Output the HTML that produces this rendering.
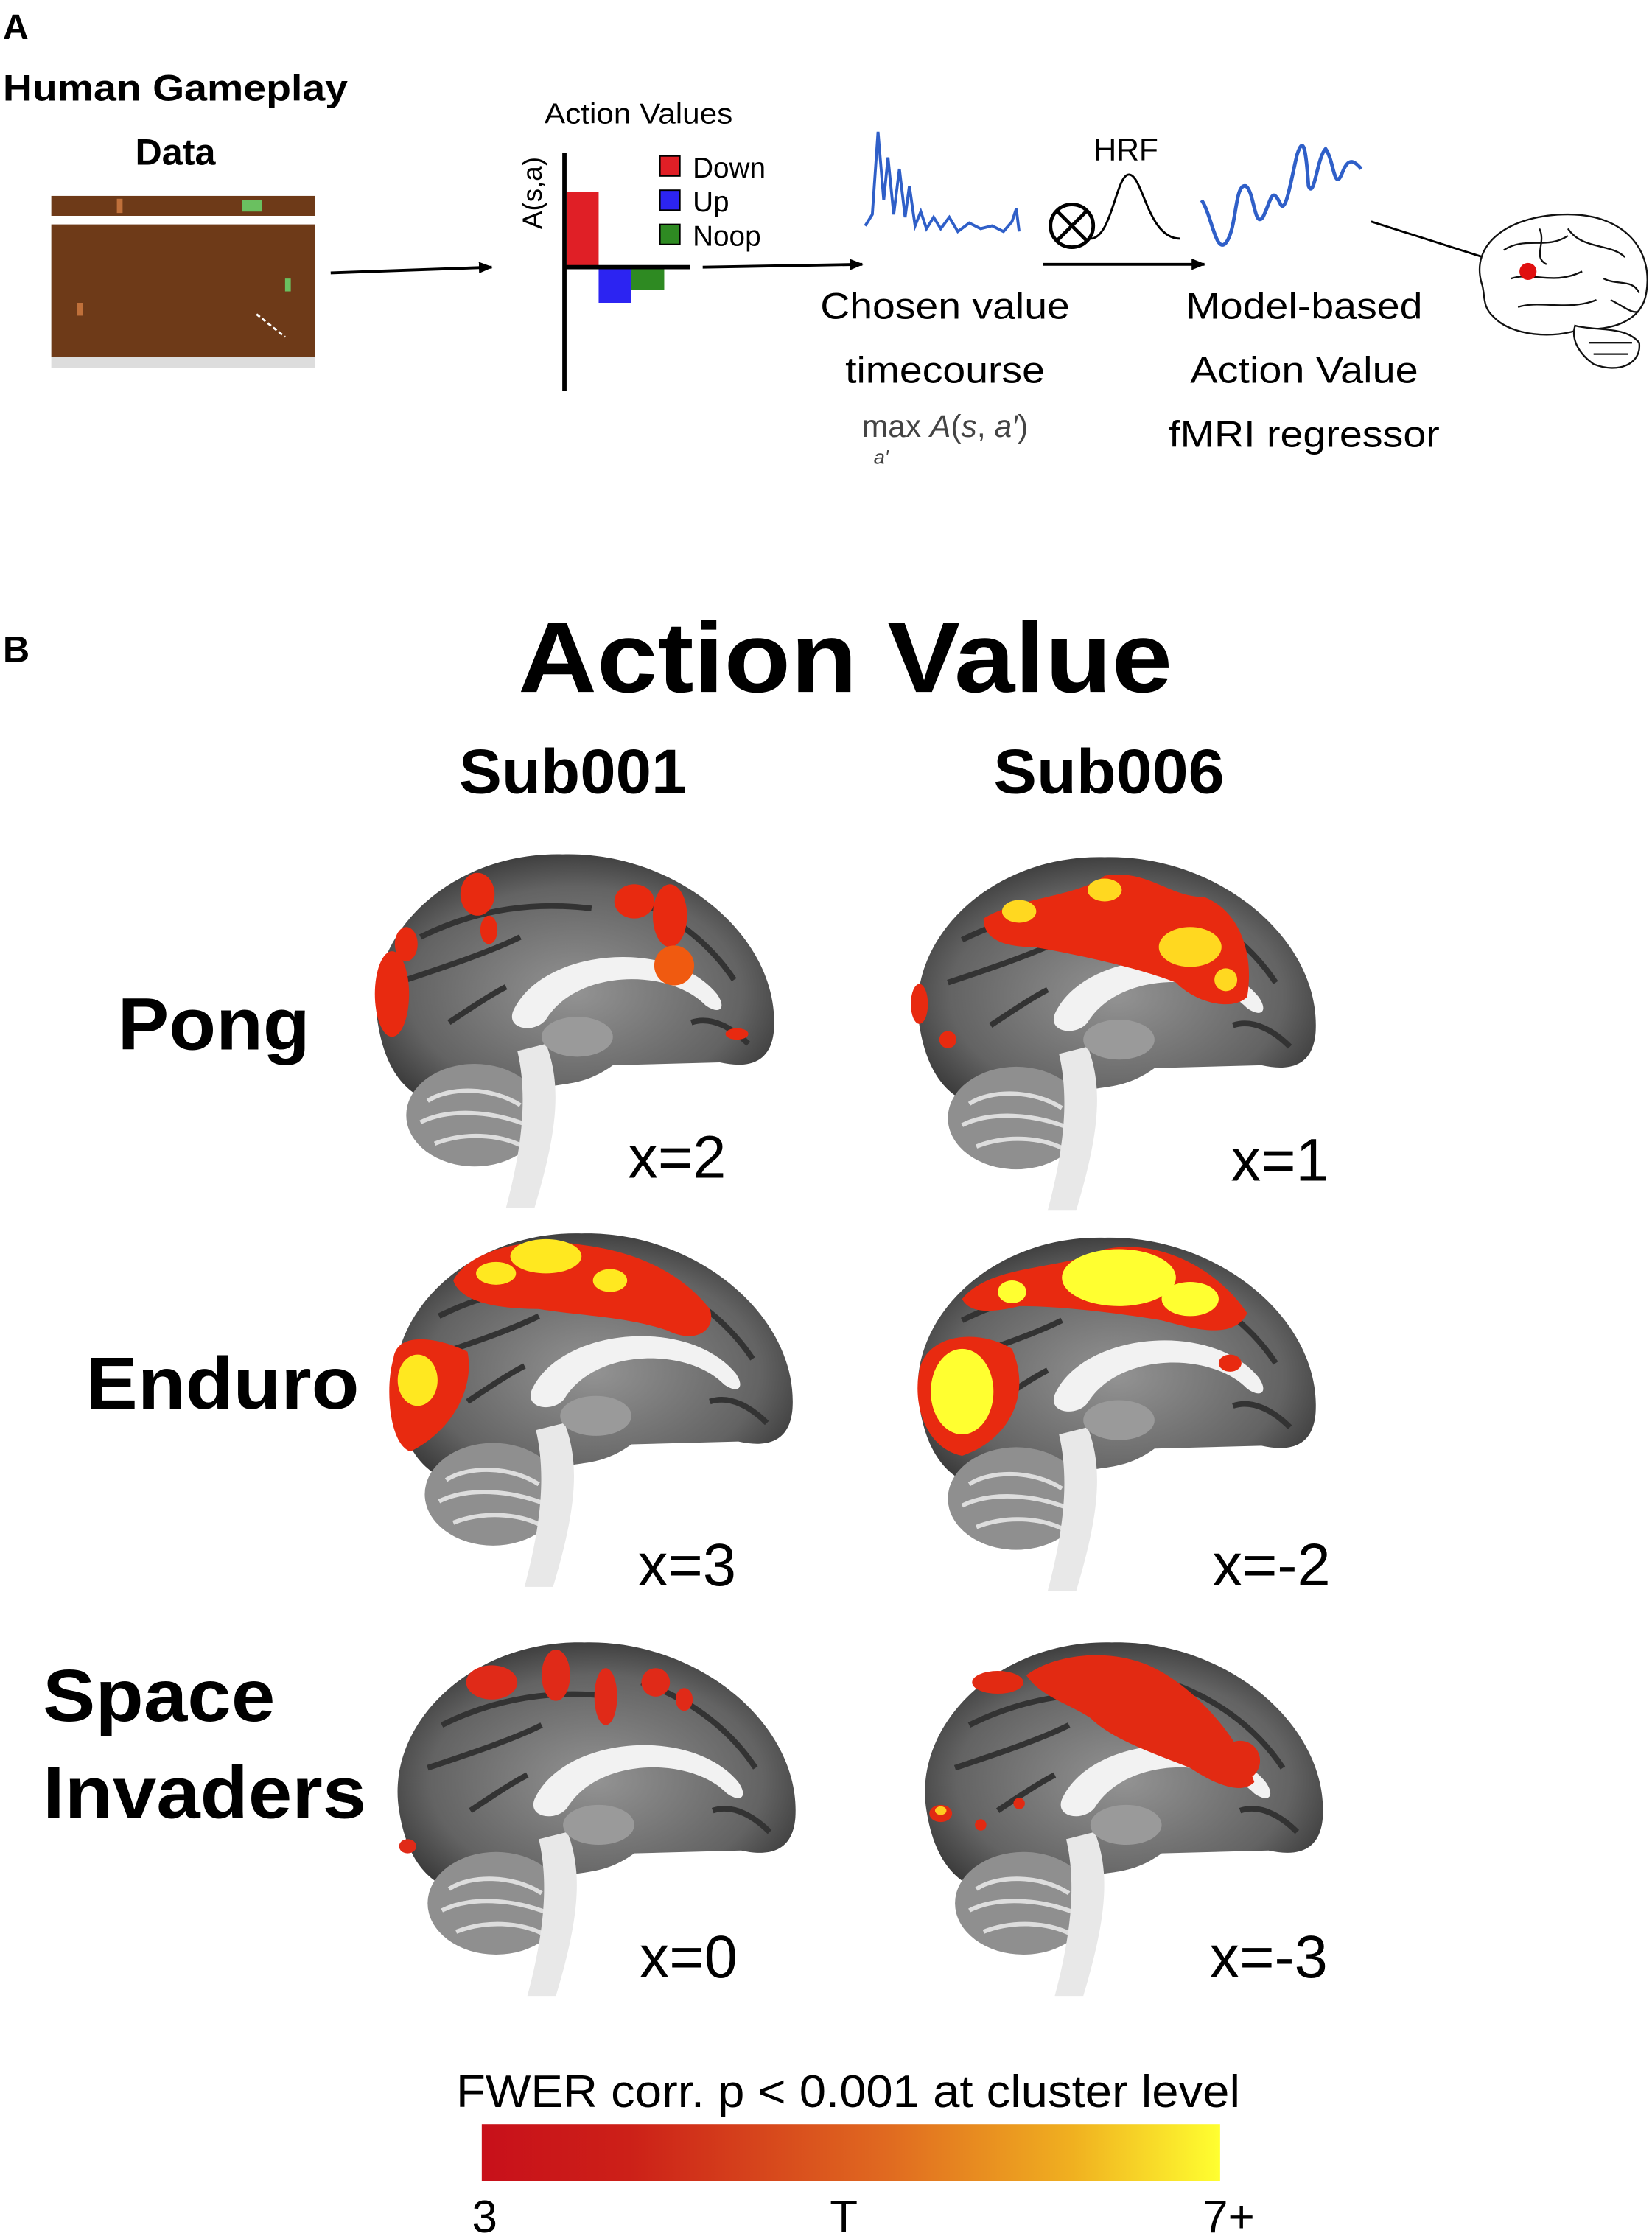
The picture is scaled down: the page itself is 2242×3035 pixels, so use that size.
<!DOCTYPE html>
<html><head><meta charset="utf-8"><style>
html,body{margin:0;padding:0;background:#fff;}
svg{display:block;}
text{font-family:"Liberation Sans",sans-serif;}
</style></head><body>
<svg width="2242" height="3035" viewBox="0 0 1159 1568" xmlns="http://www.w3.org/2000/svg">
<defs>
<marker id="ar" markerWidth="10" markerHeight="8" refX="9" refY="4" orient="auto" markerUnits="userSpaceOnUse"><path d="M0,0 L10,4 L0,8 Z" fill="#000"/></marker>
<radialGradient id="gb" cx="50%" cy="55%" r="60%"><stop offset="0" stop-color="#939393"/><stop offset="0.7" stop-color="#636363"/><stop offset="1" stop-color="#333"/></radialGradient>
<linearGradient id="cb" x1="0" x2="1"><stop offset="0" stop-color="#c8101a"/><stop offset="0.2" stop-color="#cc2018"/><stop offset="0.55" stop-color="#e06a20"/><stop offset="0.8" stop-color="#f0b020"/><stop offset="1" stop-color="#ffff30"/></linearGradient>
<g id="brain">
<path d="M10,120 C0,60 60,0 140,2 C220,0 292,60 288,125 C286,150 268,152 250,148 L175,150 C150,168 135,160 115,170 L65,178 C30,178 15,152 10,120Z" fill="url(#gb)"/>
<path d="M40,60 C80,40 120,35 160,40 M30,90 C60,80 90,70 110,60 M180,30 C210,40 240,60 260,90 M60,120 C75,110 90,100 100,95 M230,120 C245,115 260,125 270,135" stroke="#333" stroke-width="4" fill="none"/>
<ellipse cx="78" cy="185" rx="48" ry="36" fill="#8f8f8f"/>
<path d="M45,175 C60,165 90,165 110,178 M40,190 C60,180 90,182 115,192 M50,205 C70,197 95,198 112,207" stroke="#ddd" stroke-width="3" fill="none"/>
<path d="M128,135 C140,165 135,200 120,250 L100,250 C112,205 115,170 108,140Z" fill="#e8e8e8"/>
<path d="M105,112 C125,68 215,60 248,100 C255,110 250,115 240,108 C215,82 150,82 128,118 C120,128 100,125 105,112Z" fill="#f2f2f2"/>
<ellipse cx="150" cy="130" rx="25" ry="14" fill="#9a9a9a"/>
</g>
</defs>

<!-- Part A -->
<text x="2" y="27" font-size="25" font-weight="bold">A</text>
<text x="2" y="70" font-size="26" font-weight="bold" textLength="242" lengthAdjust="spacingAndGlyphs">Human Gameplay</text>
<text x="123" y="115" font-size="26" font-weight="bold" text-anchor="middle">Data</text>
<rect x="36" y="137" width="185" height="14" fill="#6e3a18"/>
<rect x="36" y="151" width="185" height="6" fill="#fff"/>
<rect x="36" y="157" width="185" height="93" fill="#6e3a18"/>
<rect x="36" y="250" width="185" height="8" fill="#ddd"/>
<rect x="82" y="139" width="4" height="10" fill="#c0703a"/>
<rect x="170" y="140" width="14" height="8" fill="#6ac060"/>
<rect x="54" y="212" width="4" height="9" fill="#c0703a"/>
<rect x="200" y="195" width="4" height="9" fill="#6ac060"/>
<path d="M180,220 L200,236" stroke="#fff" stroke-width="1.5" stroke-dasharray="3,2"/>
<line x1="232" y1="191" x2="345" y2="187" stroke="#000" stroke-width="2" marker-end="url(#ar)"/>

<text x="382" y="86" font-size="20" textLength="132" lengthAdjust="spacingAndGlyphs">Action Values</text>
<text transform="translate(380,135) rotate(-90)" font-size="19" text-anchor="middle">A(s,a)</text>
<rect x="398" y="134" width="22" height="53" fill="#e01f26"/>
<rect x="420" y="187" width="23" height="25" fill="#2c24f2"/>
<rect x="443" y="187" width="23" height="16" fill="#2e8a22"/>
<line x1="396" y1="107" x2="396" y2="274" stroke="#000" stroke-width="3"/>
<line x1="396" y1="187" x2="484" y2="187" stroke="#000" stroke-width="3"/>
<rect x="463" y="109" width="14" height="14" fill="#e01f26" stroke="#000"/>
<rect x="463" y="133" width="14" height="14" fill="#2c24f2" stroke="#000"/>
<rect x="463" y="157" width="14" height="14" fill="#2e8a22" stroke="#000"/>
<text x="486" y="124" font-size="20">Down</text>
<text x="486" y="148" font-size="20">Up</text>
<text x="486" y="172" font-size="20">Noop</text>
<line x1="493" y1="187" x2="605" y2="185" stroke="#000" stroke-width="2" marker-end="url(#ar)"/>

<polyline points="607,158 612,150 616,92 620,140 623,110 627,150 631,118 635,152 638,130 642,158 646,148 650,160 655,152 660,160 666,152 672,162 680,156 688,160 696,158 704,162 710,155 713,146 715,162" fill="none" stroke="#2f5fc8" stroke-width="2"/>
<text x="663" y="223" font-size="26" text-anchor="middle" textLength="175" lengthAdjust="spacingAndGlyphs">Chosen value</text>
<text x="663" y="268" font-size="26" text-anchor="middle" textLength="140" lengthAdjust="spacingAndGlyphs">timecourse</text>
<text x="663" y="306" font-size="22" text-anchor="middle" font-family="Liberation Serif,serif" fill="#444">max <tspan font-style="italic">A</tspan>(<tspan font-style="italic">s</tspan>, <tspan font-style="italic">a′</tspan>)</text>
<text x="613" y="325" font-size="14" font-style="italic" font-family="Liberation Serif,serif" fill="#444">a′</text>

<circle cx="752" cy="158" r="15" fill="none" stroke="#000" stroke-width="2.5"/>
<path d="M742,148 L762,168 M762,148 L742,168" stroke="#000" stroke-width="2.5"/>
<text x="790" y="112" font-size="22" text-anchor="middle">HRF</text>
<path d="M765,167 C780,167 783,122 792,122 C802,122 805,167 828,167" fill="none" stroke="#000" stroke-width="1.5"/>
<line x1="732" y1="185" x2="845" y2="185" stroke="#000" stroke-width="2" marker-end="url(#ar)"/>
<path d="M843,140 C850,150 853,178 860,170 C868,160 866,128 874,130 C880,134 880,160 886,152 C892,140 892,130 898,142 C902,152 906,124 910,108 C914,96 916,100 918,130 C922,140 924,110 930,104 C936,112 936,136 942,120 C946,110 950,112 955,118" fill="none" stroke="#2f5fc8" stroke-width="2.5"/>
<text x="915" y="223" font-size="26" text-anchor="middle" textLength="166" lengthAdjust="spacingAndGlyphs">Model-based</text>
<text x="915" y="268" font-size="26" text-anchor="middle" textLength="160" lengthAdjust="spacingAndGlyphs">Action Value</text>
<text x="915" y="313" font-size="26" text-anchor="middle" textLength="190" lengthAdjust="spacingAndGlyphs">fMRI regressor</text>
<line x1="962" y1="155" x2="1072" y2="190" stroke="#000" stroke-width="1.5"/>
<g fill="#fff" stroke="#111" stroke-width="1.2">
<path d="M1040,200 C1030,170 1060,150 1100,150 C1140,150 1160,175 1155,205 C1152,225 1130,232 1110,230 C1090,238 1060,235 1048,222 C1040,215 1042,208 1040,200Z"/>
<path d="M1105,228 C1120,232 1140,228 1150,240 C1152,255 1135,262 1118,255 C1108,248 1102,238 1105,228Z"/>
<path d="M1055,175 C1070,165 1085,175 1100,165 M1060,195 C1075,190 1090,200 1110,190 M1100,160 C1110,175 1130,170 1140,180 M1065,215 C1080,210 1100,218 1120,210 M1125,195 C1135,200 1145,195 1150,205 M1115,240 L1145,240 M1118,248 L1142,248 M1080,160 C1085,170 1075,180 1085,185 M1130,210 C1140,215 1145,220 1150,218" fill="none"/>
</g>
<circle cx="1072" cy="190" r="6" fill="#e01010"/>

<!-- Part B -->
<text x="2" y="464" font-size="26" font-weight="bold">B</text>
<text x="593" y="485" font-size="70" font-weight="bold" text-anchor="middle" textLength="459" lengthAdjust="spacingAndGlyphs">Action Value</text>
<text x="402" y="556" font-size="44" font-weight="bold" text-anchor="middle" textLength="160" lengthAdjust="spacingAndGlyphs">Sub001</text>
<text x="778" y="556" font-size="44" font-weight="bold" text-anchor="middle" textLength="162" lengthAdjust="spacingAndGlyphs">Sub006</text>
<text x="150" y="736" font-size="52" font-weight="bold" text-anchor="middle" textLength="135" lengthAdjust="spacingAndGlyphs">Pong</text>
<text x="156" y="988" font-size="52" font-weight="bold" text-anchor="middle" textLength="192" lengthAdjust="spacingAndGlyphs">Enduro</text>
<text x="30" y="1207" font-size="52" font-weight="bold" textLength="163" lengthAdjust="spacingAndGlyphs">Space</text>
<text x="30" y="1275" font-size="52" font-weight="bold" textLength="227" lengthAdjust="spacingAndGlyphs">Invaders</text>

<!-- Pong Sub001 -->
<g transform="translate(255,597)">
<use href="#brain"/>
<g fill="#e82a10">
<ellipse cx="20" cy="100" rx="12" ry="30"/><ellipse cx="30" cy="65" rx="8" ry="12"/>
<ellipse cx="80" cy="30" rx="12" ry="15"/><ellipse cx="88" cy="55" rx="6" ry="10"/>
<ellipse cx="190" cy="35" rx="14" ry="12"/><ellipse cx="215" cy="45" rx="12" ry="22"/>
<ellipse cx="218" cy="80" rx="14" ry="14" fill="#f05a10"/><ellipse cx="262" cy="128" rx="8" ry="4"/>
</g></g>
<!-- Pong Sub006 -->
<g transform="translate(635,599)">
<use href="#brain"/>
<g fill="#e82a10">
<path d="M55,45 C80,30 120,30 140,15 C170,10 185,30 210,30 C235,40 245,70 240,100 C230,110 205,105 190,90 C165,80 120,70 90,65 C70,65 55,60 55,45Z"/>
<ellipse cx="10" cy="105" rx="6" ry="14"/><ellipse cx="30" cy="130" rx="6" ry="6"/>
</g>
<g fill="#ffd820"><ellipse cx="80" cy="40" rx="12" ry="8"/><ellipse cx="140" cy="25" rx="12" ry="8"/><ellipse cx="200" cy="65" rx="22" ry="14"/><ellipse cx="225" cy="88" rx="8" ry="8"/></g>
</g>
<!-- Enduro Sub001 -->
<g transform="translate(268,863)">
<use href="#brain"/>
<g fill="#e82a10">
<path d="M50,35 C60,15 100,3 140,10 C180,15 210,30 230,55 C235,70 220,80 200,70 C170,60 140,60 110,55 C80,55 55,50 50,35Z"/>
<path d="M8,90 C10,70 40,75 60,85 C65,110 50,140 20,155 C5,150 2,110 8,90Z"/>
</g>
<g fill="#ffe820"><ellipse cx="115" cy="18" rx="25" ry="12"/><ellipse cx="80" cy="30" rx="14" ry="8"/><ellipse cx="160" cy="35" rx="12" ry="8"/><ellipse cx="25" cy="105" rx="14" ry="18"/></g>
</g>
<!-- Enduro Sub006 -->
<g transform="translate(635,866)">
<use href="#brain"/>
<g fill="#e82a10">
<path d="M40,45 C60,20 110,25 140,10 C180,2 220,25 240,55 C230,75 200,65 180,60 C150,55 110,50 80,50 C60,55 45,55 40,45Z"/>
<path d="M10,95 C15,70 50,65 75,80 C90,115 70,145 40,155 C15,150 5,120 10,95Z"/>
<ellipse cx="228" cy="90" rx="8" ry="6"/>
</g>
<g fill="#ffff30"><ellipse cx="150" cy="30" rx="40" ry="20"/><ellipse cx="200" cy="45" rx="20" ry="12"/><ellipse cx="75" cy="40" rx="10" ry="8"/><ellipse cx="40" cy="110" rx="22" ry="30"/></g>
</g>
<!-- SI Sub001 -->
<g transform="translate(270,1150)">
<use href="#brain"/>
<g fill="#e02a18">
<ellipse cx="75" cy="30" rx="18" ry="12"/><ellipse cx="120" cy="25" rx="10" ry="18"/><ellipse cx="155" cy="40" rx="8" ry="20"/><ellipse cx="190" cy="30" rx="10" ry="10"/><ellipse cx="210" cy="42" rx="6" ry="8"/><ellipse cx="16" cy="145" rx="6" ry="5"/>
</g></g>
<!-- SI Sub006 -->
<g transform="translate(640,1150)">
<use href="#brain"/>
<g fill="#e22a12">
<path d="M80,25 C100,10 140,5 170,20 C200,35 230,70 240,100 C230,110 210,100 195,90 C170,80 140,70 125,55 C110,45 90,40 80,25Z"/>
<ellipse cx="60" cy="30" rx="18" ry="8"/><ellipse cx="230" cy="85" rx="14" ry="14"/><ellipse cx="20" cy="122" rx="8" ry="6"/><ellipse cx="48" cy="130" rx="4" ry="4"/><ellipse cx="75" cy="115" rx="4" ry="4"/>
</g>
<ellipse cx="20" cy="120" rx="4" ry="3" fill="#ffcc20"/>
</g>

<text x="475" y="826" font-size="42" text-anchor="middle">x=2</text>
<text x="898" y="828" font-size="42" text-anchor="middle">x=1</text>
<text x="482" y="1112" font-size="42" text-anchor="middle">x=3</text>
<text x="892" y="1112" font-size="42" text-anchor="middle">x=-2</text>
<text x="483" y="1387" font-size="42" text-anchor="middle">x=0</text>
<text x="890" y="1387" font-size="42" text-anchor="middle">x=-3</text>

<text x="595" y="1478" font-size="32" text-anchor="middle" textLength="550" lengthAdjust="spacingAndGlyphs">FWER corr. p &lt; 0.001 at cluster level</text>
<rect x="338" y="1490" width="518" height="40" fill="url(#cb)"/>
<text x="340" y="1566" font-size="32" text-anchor="middle">3</text>
<text x="592" y="1566" font-size="32" text-anchor="middle">T</text>
<text x="862" y="1566" font-size="32" text-anchor="middle">7+</text>
</svg>
</body></html>
